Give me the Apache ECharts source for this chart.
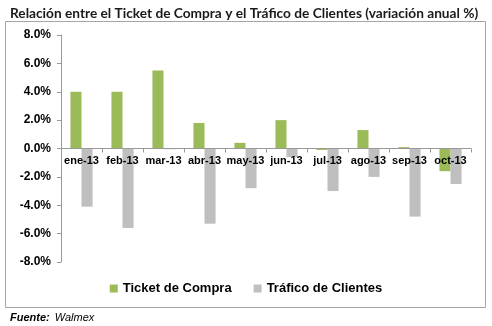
<!DOCTYPE html>
<html>
<head>
<meta charset="utf-8">
<script src="https://cdn.jsdelivr.net/npm/echarts@6/dist/echarts.min.js"></script>
<style>
  html, body { margin: 0; padding: 0; background: #fff; }
  #chart { width: 492px; height: 326px; }
</style>
</head>
<body>
<div id="chart"></div>
<script>
const months = ['ene-13', 'feb-13', 'mar-13', 'abr-13', 'may-13', 'jun-13', 'jul-13', 'ago-13', 'sep-13', 'oct-13'];
const ticketCompra = [4.0, 4.0, 5.5, 1.8, 0.4, 2.0, -0.1, 1.3, 0.1, -1.6];
const traficoClientes = [-4.1, -5.6, -0.05, -5.3, -2.8, -0.6, -3.0, -2.0, -4.8, -2.5];
const yTicks = [-8, -6, -4, -2, 0, 2, 4, 6, 8];

const chart = echarts.init(document.getElementById('chart'));

// grid spans 35..262, zero line sits half way -> lift the category axis up to it
const gridTop = 35, gridBottom = 64;
const plotH = 326 - gridTop - gridBottom;

const option = {
    animation: false,
    title: [
        {
            text: 'Relación entre el Ticket de Compra y el Tráfico de Clientes (variación anual %)',
            left: 5,
            top: 2,
            textStyle: { fontFamily: 'Lato', fontWeight: 'bold', fontSize: 13.7, color: '#1a1a1a' }
        },
        {
            text: '{b|Fuente:} {i|Walmex}',
            left: 5,
            top: 304,
            textStyle: {
                rich: {
                    b: { fontFamily: 'Liberation Sans', fontStyle: 'italic', fontWeight: 'bold', fontSize: 11, color: '#000' },
                    i: { fontFamily: 'Liberation Sans', fontStyle: 'italic', fontWeight: 'normal', fontSize: 11, color: '#000' }
                }
            }
        }
    ],
    graphic: [
        {
            type: 'rect',
            shape: { x: 5.5, y: 21.5, width: 480, height: 286 },
            style: { fill: 'none', stroke: '#a6a6a6', lineWidth: 1 },
            silent: true
        }
    ],
    legend: {
        bottom: 26,
        left: 'center',
        itemWidth: 8,
        itemHeight: 8,
        itemGap: 22,
        icon: 'rect',
        textStyle: { fontFamily: 'Liberation Sans', fontWeight: 'bold', fontSize: 13, color: '#000' },
        data: ['Ticket de Compra', 'Tráfico de Clientes']
    },
    grid: { left: 61, right: 21, top: gridTop, bottom: gridBottom },
    xAxis: {
        type: 'category',
        data: months,
        position: 'bottom',
        offset: -plotH / 2,
        z: 5,
        axisLine: { onZero: false, lineStyle: { color: '#999' } },
        axisTick: { show: true, length: 4, lineStyle: { color: '#999' } },
        axisLabel: {
            fontFamily: 'Liberation Sans',
            fontWeight: 'bold',
            fontSize: 11,
            color: '#000',
            margin: 7,
            interval: 0
        }
    },
    yAxis: {
        type: 'value',
        min: yTicks[0],
        max: yTicks[yTicks.length - 1],
        interval: 2,
        axisLine: { show: true, lineStyle: { color: '#999' } },
        axisTick: { show: true, length: 4, lineStyle: { color: '#999' } },
        splitLine: { show: false },
        axisLabel: {
            fontFamily: 'Liberation Sans',
            fontWeight: 'bold',
            fontSize: 12,
            color: '#000',
            margin: 10,
            formatter: v => v.toFixed(1) + '%'
        }
    },
    series: [
        {
            name: 'Ticket de Compra',
            type: 'bar',
            data: ticketCompra,
            barGap: '0%',
            barCategoryGap: '46%',
            itemStyle: { color: '#9bbb59' }
        },
        {
            name: 'Tráfico de Clientes',
            type: 'bar',
            data: traficoClientes,
            itemStyle: { color: '#bfbfbf' }
        }
    ]
};

chart.setOption(option);
</script>
</body>
</html>
